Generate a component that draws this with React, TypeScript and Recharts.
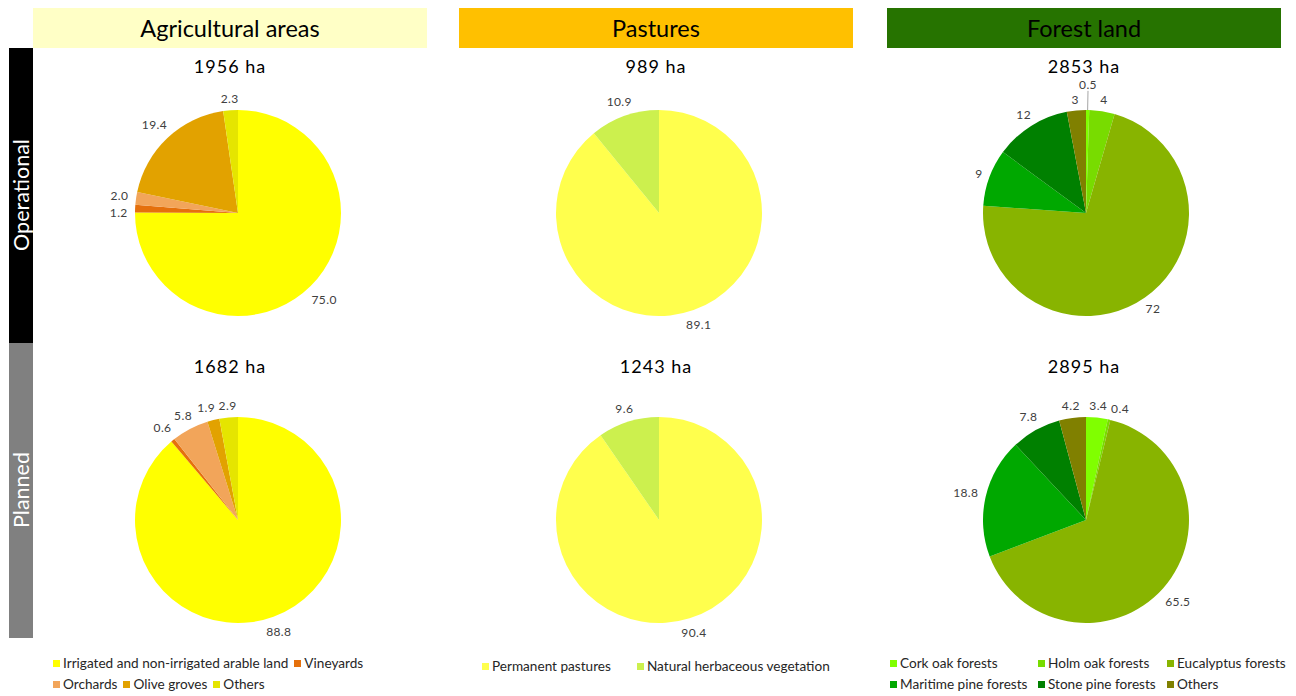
import React from 'react';
import { PieChart, Pie, Cell } from 'recharts';

const HEADERS = ['Agricultural areas', 'Pastures', 'Forest land'];
const HEADER_COLORS = ['#FFFFC6', '#FFC000', '#267300'];
const ROW_LABELS = ['Operational', 'Planned'];
const ROW_COLORS = ['#000000', '#808080'];

const AG_LABELS = ['Irrigated and non-irrigated arable land', 'Vineyards', 'Orchards', 'Olive groves', 'Others'];
const AG_COLORS = ['#FFFF00', '#E5700C', '#F2A55A', '#E2A200', '#E5E500'];
const AG_OPERATIONAL = [75.0, 1.2, 2.0, 19.4, 2.3];
const AG_PLANNED = [88.8, 0.6, 5.8, 1.9, 2.9];

const PAST_LABELS = ['Permanent pastures', 'Natural herbaceous vegetation'];
const PAST_COLORS = ['#FFFF4D', '#CCF04E'];
const PAST_OPERATIONAL = [89.1, 10.9];
const PAST_PLANNED = [90.4, 9.6];

const FOREST_LABELS = ['Cork oak forests', 'Holm oak forests', 'Eucalyptus forests', 'Maritime pine forests', 'Stone pine forests', 'Others'];
const FOREST_COLORS = ['#80FF00', '#78DC00', '#88B400', '#00A800', '#008000', '#808000'];
const FOREST_OPERATIONAL = [0.5, 4, 72, 9, 12, 3];
const FOREST_PLANNED = [3.4, 0.4, 65.5, 18.8, 7.8, 4.2];

const TOTALS_OPERATIONAL = ['1956 ha', '989 ha', '2853 ha'];
const TOTALS_PLANNED = ['1682 ha', '1243 ha', '2895 ha'];

const FONT = 'Lato, "Open Sans", sans-serif';
const RAD = Math.PI / 180;

const COL_CX = [238, 659, 1086];
const ROW_CY = [213, 520];
const HEADER_X = [33, 459, 887];
const HEADER_W = 394;
const R = 103;
const LABEL_FS = 12;
const CHAR_W = 6.8;
const LABEL_H = 10;
const COLLIDE_H = 14;
const GAP = 6;

function fmt(v: number, decimals: number | null) {
  return decimals == null ? String(v) : v.toFixed(decimals);
}

type Box = { x: number; y: number; w: number; h: number };

function overlaps(a: Box, b: Box) {
  return Math.abs(a.x - b.x) < (a.w + b.w) / 2 && Math.abs(a.y - b.y) < COLLIDE_H;
}

// label layout: place at mid angle, resolve collisions (larger slices first)
function layoutLabels(values: number[], decimals: number | null, cx: number, cy: number) {
  const total = values.reduce((a, b) => a + b, 0);
  let cum = 0;
  const items = values.map((v, i) => {
    const mid = 90 - ((cum + v / 2) / total) * 360;
    cum += v;
    const txt = fmt(v, decimals);
    return { i, v, mid, txt, w: txt.length * CHAR_W };
  });
  const pos = (angle: number, w: number, extra: number): Box => {
    const ux = Math.cos(-angle * RAD);
    const uy = Math.sin(-angle * RAD);
    const d = R + GAP + extra + (w / 2) * Math.abs(ux) + (LABEL_H / 2) * Math.abs(uy);
    return { x: cx + d * ux, y: cy + d * uy, w, h: LABEL_H };
  };
  const placed: Box[] = [];
  const result: any[] = new Array(values.length);
  const order = [...items].sort((a, b) => b.v - a.v);
  for (const it of order) {
    let box: Box | null = null;
    let leader = false;
    let angle = it.mid;
    const deltas = [0, 2, -2, 4, -4, 6, -6];
    for (const d of deltas) {
      const b = pos(it.mid + d, it.w, 0);
      if (!placed.some((p) => overlaps(p, b))) {
        box = b;
        angle = it.mid + d;
        break;
      }
    }
    if (!box) {
      for (let e = 2; e <= 40; e += 2) {
        const b = pos(it.mid, it.w, e);
        if (!placed.some((p) => overlaps(p, b))) {
          box = b;
          leader = true;
          break;
        }
      }
    }
    if (!box) box = pos(it.mid, it.w, 0);
    placed.push(box);
    result[it.i] = { ...box, txt: it.txt, leader, angle };
  }
  return result;
}

function PieCell({ values, names, colors, cx, cy, decimals }: any) {
  const data = values.map((v: number, i: number) => ({ name: names[i], value: v }));
  const W = 400;
  const H = 280;
  const pcx = W / 2;
  const pcy = H / 2;
  const labels = layoutLabels(values, decimals, pcx, pcy);
  const renderLabel = (props: any) => {
    const L = labels[props.index];
    if (!L) return null;
    const ux = Math.cos(-L.angle * RAD);
    const uy = Math.sin(-L.angle * RAD);
    return (
      <g>
        {L.leader && (
          <line
            x1={pcx + R * ux}
            y1={pcy + R * uy}
            x2={L.x}
            y2={L.y + L.h / 2 + 1}
            stroke="#a6a6a6"
            strokeWidth={1}
          />
        )}
        <text x={L.x} y={L.y} textAnchor="middle" dominantBaseline="central" fill="#404040" fontSize={LABEL_FS} fontFamily={FONT} letterSpacing={0.4}>
          {L.txt}
        </text>
      </g>
    );
  };
  return (
    <div style={{ position: 'absolute', left: cx - W / 2, top: cy - H / 2 }}>
      <PieChart width={W} height={H} margin={{ top: 0, right: 0, bottom: 0, left: 0 }}>
        <Pie
          data={data}
          dataKey="value"
          nameKey="name"
          cx={pcx}
          cy={pcy}
          outerRadius={R}
          startAngle={90}
          endAngle={-270}
          stroke="none"
          isAnimationActive={false}
          labelLine={false}
          label={renderLabel}
        >
          {data.map((_: any, i: number) => (
            <Cell key={i} fill={colors[i]} />
          ))}
        </Pie>
      </PieChart>
    </div>
  );
}

function LegendItem({ color, label }: any) {
  return (
    <div style={{ display: 'flex', alignItems: 'center', whiteSpace: 'nowrap' }}>
      <span style={{ display: 'inline-block', width: 7, height: 7, background: color, marginRight: 3 }} />
      <span>{label}</span>
    </div>
  );
}

export default function App() {
  const columns = [
    { names: AG_LABELS, colors: AG_COLORS, op: AG_OPERATIONAL, pl: AG_PLANNED, decimals: 1 },
    { names: PAST_LABELS, colors: PAST_COLORS, op: PAST_OPERATIONAL, pl: PAST_PLANNED, decimals: 1 },
    { names: FOREST_LABELS, colors: FOREST_COLORS, op: FOREST_OPERATIONAL, pl: FOREST_PLANNED, decimals: null },
  ];
  const legendText: React.CSSProperties = { fontFamily: FONT, fontSize: 13.6, color: '#262626' };
  return (
    <div style={{ position: 'absolute', left: 0, top: 0, width: 1296, height: 696, background: '#fff', overflow: 'hidden' }}>
      {HEADERS.map((h, i) => (
        <div
          key={h}
          style={{
            position: 'absolute', left: HEADER_X[i], top: 8, width: HEADER_W, height: 40,
            background: HEADER_COLORS[i], display: 'flex', alignItems: 'center', justifyContent: 'center',
            fontFamily: FONT, fontSize: 23.5, color: '#000',
          }}
        >
          {h}
        </div>
      ))}
      {ROW_LABELS.map((r, i) => (
        <div
          key={r}
          style={{ position: 'absolute', left: 9, top: 48 + i * 295, width: 24, height: 295, background: ROW_COLORS[i] }}
        >
          <div
            style={{
              position: 'absolute', left: 12, top: 147, transform: 'translate(-50%, -50%) rotate(-90deg)',
              color: '#fff', fontFamily: FONT, fontSize: 21.5, whiteSpace: 'nowrap',
            }}
          >
            {r}
          </div>
        </div>
      ))}
      {[TOTALS_OPERATIONAL, TOTALS_PLANNED].map((totals, ri) =>
        totals.map((t, ci) => (
          <div
            key={t}
            style={{
              position: 'absolute', left: HEADER_X[ci], width: HEADER_W, top: 55 + ri * 300, textAlign: 'center',
              fontFamily: FONT, fontSize: 18, letterSpacing: 1, color: '#000',
            }}
          >
            {t}
          </div>
        ))
      )}
      {columns.map((c, ci) => (
        <React.Fragment key={ci}>
          <PieCell values={c.op} names={c.names} colors={c.colors} cx={COL_CX[ci]} cy={ROW_CY[0]} decimals={c.decimals} />
          <PieCell values={c.pl} names={c.names} colors={c.colors} cx={COL_CX[ci]} cy={ROW_CY[1]} decimals={c.decimals} />
        </React.Fragment>
      ))}
      <div style={{ position: 'absolute', left: 53, top: 655, width: 340, display: 'flex', flexWrap: 'wrap', columnGap: 6, rowGap: 5, ...legendText }}>
        {AG_LABELS.map((l, i) => <LegendItem key={l} color={AG_COLORS[i]} label={l} />)}
      </div>
      <div style={{ position: 'absolute', left: 482, top: 658, display: 'flex', columnGap: 26, ...legendText }}>
        {PAST_LABELS.map((l, i) => <LegendItem key={l} color={PAST_COLORS[i]} label={l} />)}
      </div>
      <div style={{ position: 'absolute', left: 890, top: 655, display: 'grid', gridTemplateColumns: '148px 129px auto', rowGap: 5, ...legendText }}>
        {FOREST_LABELS.map((l, i) => <LegendItem key={l} color={FOREST_COLORS[i]} label={l} />)}
      </div>
    </div>
  );
}
